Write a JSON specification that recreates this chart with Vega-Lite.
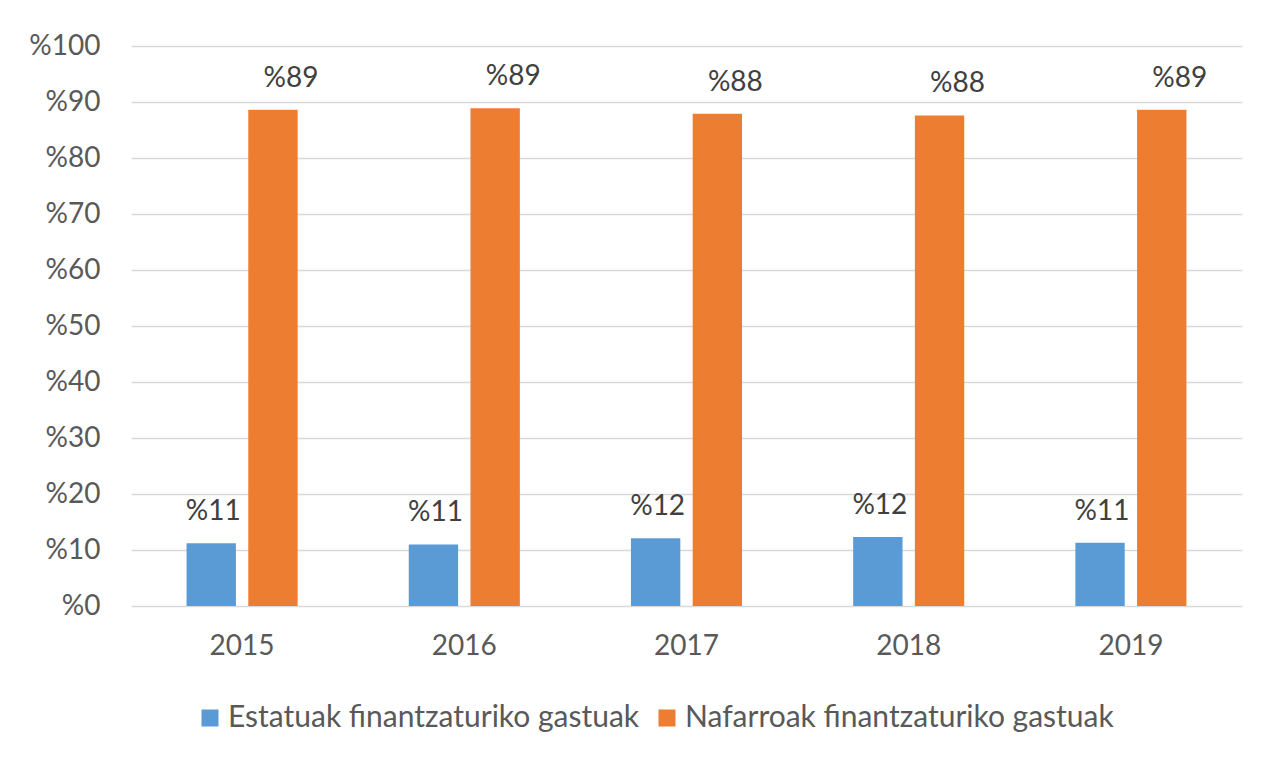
{
  "$schema": "https://vega.github.io/schema/vega-lite/v6.json",
  "width": 1111,
  "height": 560,
  "autosize": {"type": "none"},
  "padding": {"left": 131, "top": 46, "right": 34, "bottom": 156},
  "background": "white",
  "config": {
    "font": "Lato",
    "view": {"stroke": null},
    "axis": {"labelFont": "Lato", "labelColor": "#595959", "labelFontSize": 28},
    "legend": {"labelFont": "Lato", "labelColor": "#595959", "labelFontSize": 30, "labelLimit": 0}
  },
  "data": {
    "values": [
      {"year": "2015", "series": "Estatuak finantzaturiko gastuak", "value": 11.2},
      {"year": "2015", "series": "Nafarroak finantzaturiko gastuak", "value": 88.6},
      {"year": "2016", "series": "Estatuak finantzaturiko gastuak", "value": 11.0},
      {"year": "2016", "series": "Nafarroak finantzaturiko gastuak", "value": 88.9},
      {"year": "2017", "series": "Estatuak finantzaturiko gastuak", "value": 12.1},
      {"year": "2017", "series": "Nafarroak finantzaturiko gastuak", "value": 87.9},
      {"year": "2018", "series": "Estatuak finantzaturiko gastuak", "value": 12.3},
      {"year": "2018", "series": "Nafarroak finantzaturiko gastuak", "value": 87.6},
      {"year": "2019", "series": "Estatuak finantzaturiko gastuak", "value": 11.3},
      {"year": "2019", "series": "Nafarroak finantzaturiko gastuak", "value": 88.6}
    ]
  },
  "transform": [{"calculate": "'%' + format(datum.value, '.0f')", "as": "label"}],
  "encoding": {
    "x": {
      "field": "year", "type": "nominal", "title": null,
      "scale": {"paddingInner": 0.5, "paddingOuter": 0.25},
      "axis": {"labelAngle": 0, "domain": false, "ticks": false, "labelPadding": 26}
    },
    "xOffset": {
      "field": "series", "type": "nominal",
      "scale": {"paddingInner": 0.2, "paddingOuter": 0}
    },
    "y": {
      "field": "value", "type": "quantitative", "title": null,
      "scale": {"domain": [0, 100], "nice": false},
      "axis": {
        "values": [0, 10, 20, 30, 40, 50, 60, 70, 80, 90, 100],
        "labelExpr": "'%' + datum.value",
        "domain": false, "ticks": false, "labelPadding": 31,
        "gridColor": "#d9d9d9", "gridWidth": 1.5
      }
    }
  },
  "layer": [
    {
      "mark": {"type": "bar"},
      "encoding": {
        "color": {
          "field": "series", "type": "nominal", "title": null,
          "scale": {
            "domain": ["Estatuak finantzaturiko gastuak", "Nafarroak finantzaturiko gastuak"],
            "range": ["#5b9bd5", "#ed7d31"]
          },
          "legend": {
            "orient": "none", "legendX": 64, "legendY": 657, "padding": 0,
            "direction": "horizontal",
            "symbolType": "square", "symbolSize": 289, "symbolStrokeWidth": 0,
            "symbolOpacity": 1, "columnPadding": 12, "labelOffset": 3
          }
        }
      }
    },
    {
      "transform": [{"filter": "datum.series == 'Estatuak finantzaturiko gastuak'"}],
      "mark": {"type": "text", "baseline": "alphabetic", "dy": -23, "dx": 2, "fontSize": 28, "color": "#404040", "font": "Lato"},
      "encoding": {"text": {"field": "label"}}
    },
    {
      "transform": [{"filter": "datum.series == 'Nafarroak finantzaturiko gastuak'"}],
      "mark": {"type": "text", "baseline": "alphabetic", "dy": -23, "dx": 18, "fontSize": 28, "color": "#404040", "font": "Lato"},
      "encoding": {"text": {"field": "label"}}
    }
  ]
}
